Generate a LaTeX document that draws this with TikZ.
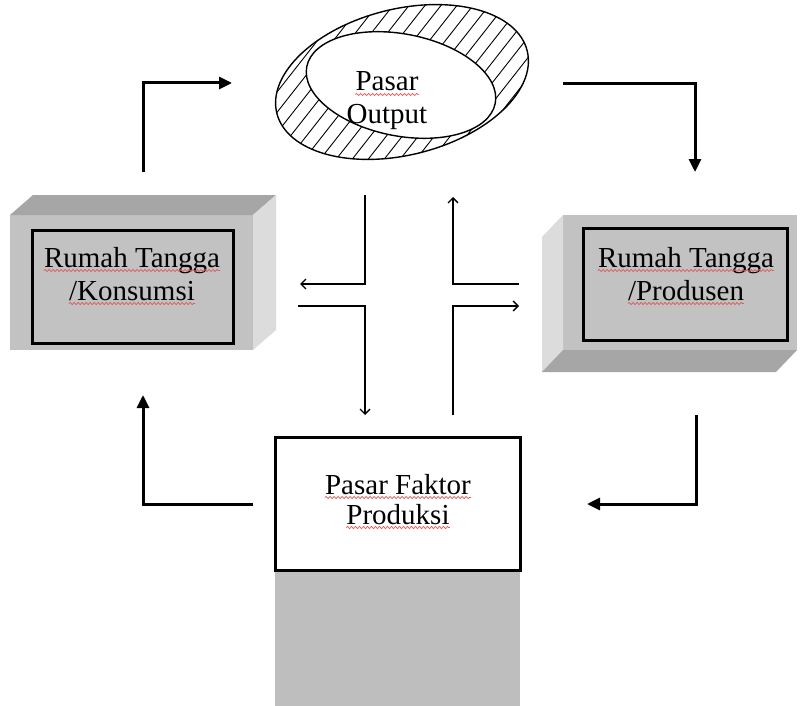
\documentclass[tikz,border=0pt]{standalone}
\usepackage{fontspec}
\setmainfont{Liberation Serif}
\usetikzlibrary{arrows.meta,decorations.pathmorphing}
\definecolor{frontgray}{RGB}{194,194,194}
\definecolor{topgray}{RGB}{166,166,166}
\definecolor{sidegray}{RGB}{220,220,220}
\definecolor{botgray}{RGB}{190,190,190}
\definecolor{squigred}{RGB}{220,90,90}
\tikzset{
  thickarrow/.style={line width=3pt, -{Triangle[length=13pt,width=12pt]}},
  thinarrow/.style={line width=1.3pt, -{Straight Barb[length=5pt,width=10pt]}},
  innerbox/.style={draw, line width=3pt, inner sep=0pt},
  lbl/.style={font=\fontsize{29}{32}\selectfont, inner sep=0pt, anchor=base},
  squig/.style={draw=squigred, line width=0.7pt, decorate, decoration={snake, amplitude=1.1pt, segment length=4pt}},
  ringline/.style={line width=1.4pt},
}
\begin{document}
\begin{tikzpicture}[x=1pt,y=-1pt]
\useasboundingbox (0,0) rectangle (800,706);
\fill[white] (0,0) rectangle (800,706);

% ---------- Pasar Output (hatched ring) ----------
\begin{scope}
  \clip[rotate around={14:(402,82)}] (402,82) ellipse [x radius=129pt, y radius=73pt];
  \foreach \i in {0,...,27} {
    \draw[line width=0.9pt] (120+\i*16,190) -- ++(165,-210);
  }
\end{scope}
\draw[ringline, rotate around={14:(402,82)}] (402,82) ellipse [x radius=129pt, y radius=73pt];
\filldraw[ringline, fill=white, rotate around={-11:(401,85)}] (401,85) ellipse [x radius=96pt, y radius=51pt];
\node[lbl] (pasA) at (387,91) {Pasar};
\node[lbl] (pasB) at (387,124) {Output};

% ---------- Left box: Rumah Tangga / Konsumsi ----------
\fill[frontgray] (10,215) rectangle (253,350);
\fill[topgray] (10,215) -- (33,195) -- (276,195) -- (253,215) -- cycle;
\fill[sidegray] (253,215) -- (276,195) -- (276,330) -- (253,350) -- cycle;
\node[innerbox, minimum width=201pt, minimum height=113pt] (kons) at (132.5,286.5) {};
\node[lbl] (konsA) at (132,267) {Rumah Tangga};
\node[lbl] (konsB) at (132,300) {/Konsumsi};

% ---------- Right box: Rumah Tangga / Produsen ----------
\fill[frontgray] (563,215) rectangle (797,350);
\fill[sidegray] (563,215) -- (542,237) -- (542,372) -- (563,350) -- cycle;
\fill[topgray] (563,350) -- (797,350) -- (776,372) -- (542,372) -- cycle;
\node[innerbox, minimum width=204pt, minimum height=112pt] (prod) at (685,284) {};
\node[lbl] (prodA) at (686,267) {Rumah Tangga};
\node[lbl] (prodB) at (686,300) {/Produsen};

% ---------- Bottom box: Pasar Faktor Produksi ----------
\fill[botgray] (275,570) rectangle (520,706);
\node[innerbox, fill=white, minimum width=245pt, minimum height=133pt] (fak) at (397.5,503.5) {};
\node[lbl] (fakA) at (398,494) {Pasar Faktor};
\node[lbl] (fakB) at (398,524) {Produksi};

% ---------- spell-check squiggles ----------
\foreach \n in {pasA,konsA,konsB,prodA,prodB,fakA,fakB} {
  \path[squig] ([yshift=-3.5pt]\n.base west) -- ([yshift=-3.5pt]\n.base east);
}

% ---------- thick circulation arrows ----------
\coordinate (a1s) at (143,172); \coordinate (a1e) at (232,83);
\coordinate (a2s) at (563,84);  \coordinate (a2e) at (695,172);
\coordinate (a3s) at (696,415); \coordinate (a3e) at (587,504);
\coordinate (a4s) at (253,504); \coordinate (a4e) at (143,395);
\draw[thickarrow] (a1s) |- (a1e);
\draw[thickarrow] (a2s) -| (a2e);
\draw[thickarrow] (a3s) |- (a3e);
\draw[thickarrow] (a4s) -| (a4e);

% ---------- thin central arrows ----------
\coordinate (t1s) at (365,195); \coordinate (t1e) at (300,284);
\coordinate (t2s) at (298,306); \coordinate (t2e) at (365,415);
\coordinate (t3s) at (453,415); \coordinate (t3e) at (519,306);
\coordinate (t4s) at (519,284); \coordinate (t4e) at (453,197);
\draw[thinarrow] (t1s) |- (t1e);
\draw[thinarrow] (t2s) -| (t2e);
\draw[thinarrow] (t3s) |- (t3e);
\draw[thinarrow] (t4s) -| (t4e);
\end{tikzpicture}
\end{document}
